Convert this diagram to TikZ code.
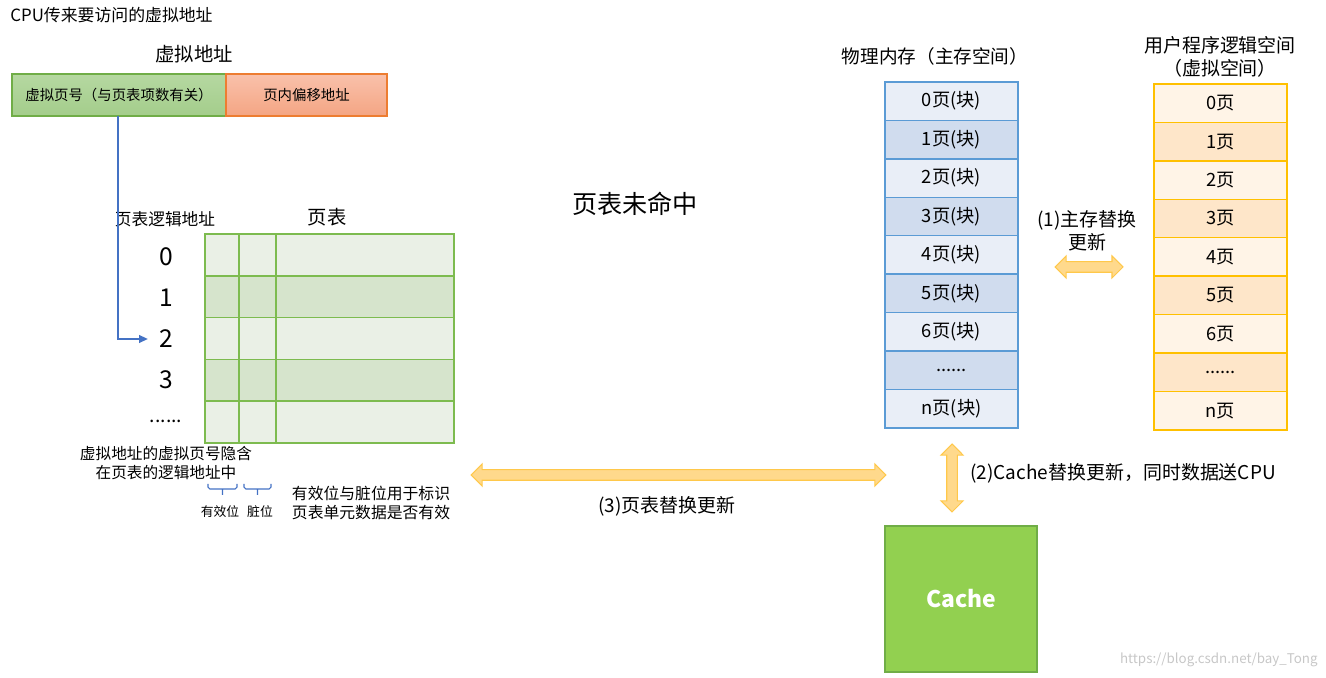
\documentclass[tikz,border=0pt]{standalone}
\usepackage{fontspec}
\setmainfont{Noto Sans CJK SC}
\usetikzlibrary{arrows.meta,shapes.arrows,calc}

\definecolor{vpntop}{HTML}{B5D8A1}
\definecolor{vpnbot}{HTML}{A4CD8B}
\definecolor{vpnline}{HTML}{70AD47}
\definecolor{offtop}{HTML}{F9C1AB}
\definecolor{offbot}{HTML}{F4A583}
\definecolor{offline}{HTML}{ED7D31}
\definecolor{ptlight}{HTML}{EAF0E6}
\definecolor{ptdark}{HTML}{D6E4CC}
\definecolor{ptline}{HTML}{7DBB4F}
\definecolor{memlight}{HTML}{E9EEF7}
\definecolor{memdark}{HTML}{D0DCEE}
\definecolor{memline}{HTML}{5B9BD5}
\definecolor{vslight}{HTML}{FFF4E7}
\definecolor{vsdark}{HTML}{FEE6C9}
\definecolor{vsline}{HTML}{FFC000}
\definecolor{arrfill}{HTML}{FFD98C}
\definecolor{arrline}{HTML}{FFC84A}
\definecolor{cachefill}{HTML}{92D050}
\definecolor{cacheline}{HTML}{70AD47}
\definecolor{linkblue}{HTML}{4472C4}
\newcommand\rowdots{......}

\begin{document}
\begin{tikzpicture}[
  x=0.02cm, y=-0.02cm,
  lbl/.style={inner sep=0pt, align=center},
  addrbox/.style={minimum height=0.84cm, inner sep=0pt, line width=0.7pt, font=\fontsize{8.2}{10}\selectfont},
  memcell/.style={draw=memline, line width=0.8pt, minimum width=2.66cm, minimum height=0.769cm, inner sep=0pt, font=\fontsize{10.4}{12}\selectfont},
  vscell/.style={draw=vsline, line width=0.8pt, minimum width=2.66cm, minimum height=0.769cm, inner sep=0pt, font=\fontsize{10.4}{12}\selectfont},
  fatarrow/.style={double arrow, draw=arrline, fill=arrfill, line width=0.6pt, inner xsep=0pt, inner ysep=0.095cm, double arrow head extend=0.115cm},
  brc/.style={draw=linkblue, line width=0.6pt, rounded corners=1pt}
]
\useasboundingbox (0,0) rectangle (1326,678);

% virtual address
\node[lbl, anchor=west, font=\fontsize{9.6}{11}\selectfont] (cpu) at (10,15) {CPU传来要访问的虚拟地址};
\node[lbl, font=\fontsize{11}{13}\selectfont] (vatitle) at (194,54) {虚拟地址};
\node[addrbox, draw=vpnline, top color=vpntop, bottom color=vpnbot, minimum width=4.28cm] (vpn) at (119,95) {虚拟页号（与页表项数有关）};
\node[addrbox, draw=offline, top color=offtop, bottom color=offbot, minimum width=3.22cm] (off) at (306.5,95) {页内偏移地址};

% page table
\node[lbl, font=\fontsize{9.5}{11}\selectfont] (ptaddr) at (165,219) {页表逻辑地址};
\node[lbl, font=\fontsize{11}{13}\selectfont] (pttitle) at (327,217) {页表};
\foreach \i in {0,...,4} {
  \pgfmathsetmacro\yy{234+41.8*\i}
  \ifodd\i \def\rowcol{ptdark}\else\def\rowcol{ptlight}\fi
  \fill[\rowcol] (205,\yy) rectangle ++(249,41.8);
}
\foreach \i in {1,...,4} {
  \draw[ptline, line width=0.9pt] (205,{234+41.8*\i}) -- (454,{234+41.8*\i});
}
\draw[ptline, line width=0.9pt] (205,234) rectangle (454,443)
  (239,234) -- (239,443) (276,234) -- (276,443);
\foreach \d [count=\i from 0] in {0,1,2,3} {
  \node[lbl, font=\fontsize{14}{16}\selectfont] (n\i) at (166,{257+41*\i}) {\d};
}
\node[lbl, anchor=base, font=\fontsize{11}{13}\selectfont] (ndots) at (166,423) {\rowdots};
\draw[linkblue, line width=0.7pt, -{Triangle[length=5pt,width=4.5pt]}, shorten >=0.22cm] (118,116) |- (n2.west);

\node[lbl, font=\fontsize{8.9}{10.8}\selectfont] (hint) at (166,463.5) {虚拟地址的虚拟页号隐含\\在页表的逻辑地址中};
\draw[brc] (208,484) -- (208,489) -- (237,489) -- (237,484) (222.5,489) -- (222.5,495);
\draw[brc] (244,484) -- (244,489) -- (271,489) -- (271,484) (257.5,489) -- (257.5,495);
\node[lbl, font=\fontsize{7.3}{9}\selectfont] (valid) at (220,512) {有效位};
\node[lbl, font=\fontsize{7.3}{9}\selectfont] (dirty) at (260,512) {脏位};
\node[lbl, font=\fontsize{9}{10.8}\selectfont] (bitnote) at (371,502.5) {有效位与脏位用于标识\\页表单元数据是否有效};

\node[lbl, font=\fontsize{14.3}{16}\selectfont] (miss) at (635,204) {页表未命中};

% physical memory
\node[lbl, font=\fontsize{10.6}{12}\selectfont] (memtitle) at (935,56) {物理内存（主存空间）};
\foreach \t [count=\i from 0] in {0页(块),1页(块),2页(块),3页(块),4页(块),5页(块),6页(块),\rowdots,n页(块)} {
  \ifodd\i \def\rowcol{memdark}\else\def\rowcol{memlight}\fi
  \node[memcell, fill=\rowcol] (m\i) at (951.5,{82+38.44*(\i+0.5)}) {\t};
}

% virtual space
\node[lbl, font=\fontsize{10.8}{13}\selectfont] (vstitle) at (1220,56.5) {用户程序逻辑空间\\（虚拟空间）};
\foreach \t [count=\i from 0] in {0页,1页,2页,3页,4页,5页,6页,\rowdots,n页} {
  \ifodd\i \def\rowcol{vsdark}\else\def\rowcol{vslight}\fi
  \node[vscell, fill=\rowcol] (v\i) at (1220.5,{84+38.44*(\i+0.5)}) {\t};
}

% replacement arrows
\node[lbl, font=\fontsize{10.8}{13}\selectfont] (swap1) at (1087,231) {(1)主存替换\\更新};
\node[fatarrow, minimum height=1.36cm] (arr1) at (1089,267) {};
\node[fatarrow, minimum height=1.36cm, rotate=90] (arr2) at (952,478) {};
\node[lbl, anchor=west, font=\fontsize{10.8}{13}\selectfont] (swap2) at (970,473) {(2)Cache替换更新，同时数据送CPU};
\node[fatarrow, minimum height=8.3cm] (arr3) at (678.5,475) {};
\node[lbl, font=\fontsize{10.8}{13}\selectfont] (swap3) at (667,506) {(3)页表替换更新};

% cache
\node[draw=cacheline, fill=cachefill, line width=0.7pt, minimum width=3.04cm, minimum height=2.92cm, text=white, font=\bfseries\fontsize{13}{15}\selectfont] (cache) at (961,599) {Cache};

\node[lbl, anchor=east, text=black!22, font=\fontsize{7.6}{9}\selectfont] (wm) at (1318,660) {https://blog.csdn.net/bay\_Tong};
\end{tikzpicture}
\end{document}
